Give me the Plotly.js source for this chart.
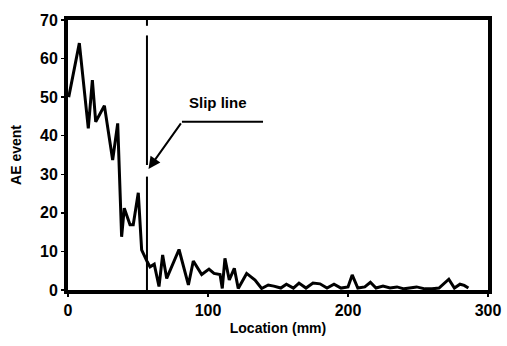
<!DOCTYPE html>
<html>
<head>
<meta charset="utf-8">
<script src="https://cdn.plot.ly/plotly-3.0.1.min.js"></script>
<style>html,body{margin:0;padding:0;background:#fff;}#chart{width:507px;height:346px;}</style>
</head>
<body>
<div id="chart"></div>
<script>
const locationMm = [0.5, 3.8, 8.1, 14.5, 17.4, 19.8, 26, 31.9, 35.5, 38.3, 40.2, 44.3, 46.6, 50.2, 52.6, 56.6, 58.6, 61.6, 65, 67.6, 70.5, 79.3, 86, 89.5, 95.5, 100.7, 104.3, 108.6, 110.2, 112.1, 115.2, 118.8, 121.6, 127.6, 133.6, 138.3, 143, 147, 152, 156, 161, 165, 170, 175, 180, 185, 190, 195, 200, 203, 207, 212, 216, 220, 225, 230, 235, 240, 245, 249, 255, 260, 265, 272, 276, 280, 283, 286];
const aeEvents = [50, 55.7, 64, 41.9, 54.4, 43.6, 47.8, 33.7, 43.2, 13.8, 21.2, 16.9, 16.9, 25.2, 10.4, 7.3, 6, 6.7, 0.9, 9.1, 3, 10.5, 1.3, 7.5, 4, 5.4, 4.3, 4, 0.4, 8.2, 2.6, 5.6, 0.4, 4.3, 2.6, 0.4, 1.3, 1, 0.5, 1.5, 0.5, 1.8, 0.5, 1.8, 1.6, 0.5, 1.5, 0.5, 0.8, 3.9, 0.5, 0.8, 2, 0.5, 1, 0.5, 0.8, 0.3, 0.5, 0.8, 0.3, 0.3, 0.5, 2.8, 0.5, 1.5, 1.2, 0.5];
const slipLineX = 56.4;
const xTicks = [0, 100, 200, 300];
const yTicks = [0, 10, 20, 30, 40, 50, 60, 70];

const trace = {
  x: locationMm, y: aeEvents, type: 'scatter', mode: 'lines',
  line: {color: '#000', width: 3}, hoverinfo: 'skip'
};
const vseg = (y0, y1) => ({type: 'line', xref: 'x', yref: 'y', x0: slipLineX, x1: slipLineX, y0: y0, y1: y1, line: {color: '#000', width: 2}});
const layout = {
  width: 507, height: 346,
  margin: {l: 68, r: 19, t: 20, b: 56},
  paper_bgcolor: '#fff', plot_bgcolor: '#fff',
  showlegend: false,
  font: {family: 'Liberation Sans, Arial, sans-serif', color: '#000'},
  xaxis: {
    range: [0, 300], tickvals: xTicks, ticktext: xTicks.map(v => '<b>' + v + '</b>'),
    showline: true, mirror: true, linewidth: 4, linecolor: '#000',
    ticks: 'outside', ticklen: 3, tickwidth: 1.5, tickcolor: '#000',
    showgrid: false, zeroline: false,
    tickfont: {size: 16, family: 'Liberation Sans, Arial, sans-serif'},
    title: {text: '<b>Location (mm)</b>', font: {size: 14}, standoff: 6}
  },
  yaxis: {
    range: [0, 70], tickvals: yTicks, ticktext: yTicks.map(v => '<b>' + v + '</b>'),
    showline: true, mirror: true, linewidth: 4, linecolor: '#000',
    ticks: 'outside', ticklen: 3, tickwidth: 1.5, tickcolor: '#000',
    showgrid: false, zeroline: false,
    tickfont: {size: 16, family: 'Liberation Sans, Arial, sans-serif'},
    title: {text: '<b>AE event</b>', font: {size: 14}, standoff: 16}
  },
  shapes: [
    vseg(68.5, 70), vseg(32.4, 66), vseg(0, 29.4),
    {type: 'line', xref: 'x', yref: 'y', x0: 81.4, x1: 139.3, y0: 43.6, y1: 43.6, line: {color: '#000', width: 2}}
  ],
  annotations: [
    {x: 57.5, y: 31.4, xref: 'x', yref: 'y', ax: 81.4, ay: 43.6, axref: 'x', ayref: 'y',
     showarrow: true, arrowhead: 2, arrowsize: 1.2, arrowwidth: 2, arrowcolor: '#000', text: ''},
    {x: 107, y: 48.5, xref: 'x', yref: 'y', showarrow: false, text: '<b>Slip line</b>',
     font: {size: 15, color: '#000'}}
  ]
};
Plotly.newPlot('chart', [trace], layout, {staticPlot: true, displayModeBar: false});
</script>
</body>
</html>
